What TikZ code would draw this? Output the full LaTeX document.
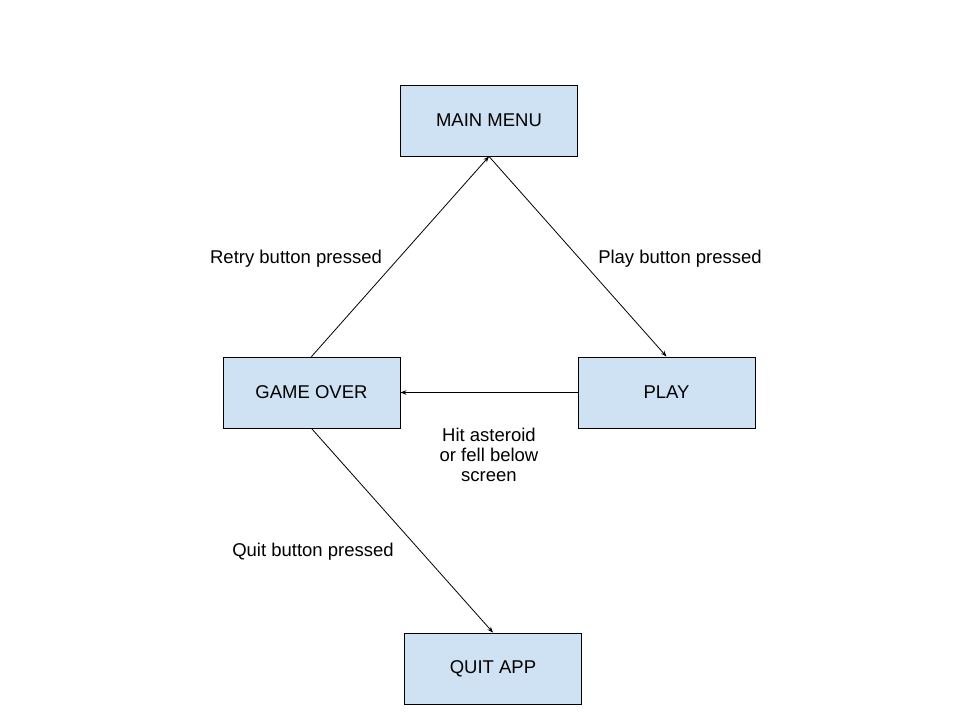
\documentclass[tikz,border=0pt]{standalone}
\usepackage{fontspec}
\setmainfont{Liberation Sans}
\usetikzlibrary{arrows.meta}
\definecolor{boxfill}{HTML}{CFE2F3}
\begin{document}
\begin{tikzpicture}[x=1pt,y=-1pt,
  statebox/.style={draw=black,fill=boxfill,line width=0.9pt,minimum width=177pt,minimum height=71pt,inner sep=0pt,font=\fontsize{18.5}{20}\selectfont},
  lbl/.style={font=\fontsize{18.5}{20}\selectfont,align=center,inner sep=0pt},
  conn/.style={line width=0.8pt,-{Stealth[length=6pt,width=4.5pt]}}]
\useasboundingbox[fill=white] (0,0) rectangle (960,720);
\node[statebox] (menu) at (489,120.5) {MAIN MENU};
\node[statebox] (play) at (666.5,392.5) {PLAY};
\node[statebox] (over) at (311.5,392.5) {GAME OVER};
\node[statebox] (quit) at (493,668.5) {QUIT APP};
\draw[conn] (menu.south) -- (play.north);
\draw[conn] (over.north) -- (menu.south);
\draw[conn] (play.west) -- (over.east);
\draw[conn] (over.south) -- (quit.north);
\node[lbl] (l1) at (296,258.5) {Retry button pressed};
\node[lbl] (l2) at (680,258.5) {Play button pressed};
\node[lbl] (l3) at (489,454.5) {Hit asteroid\\or fell below\\screen};
\node[lbl] (l4) at (313,551.5) {Quit button pressed};
\end{tikzpicture}
\end{document}
